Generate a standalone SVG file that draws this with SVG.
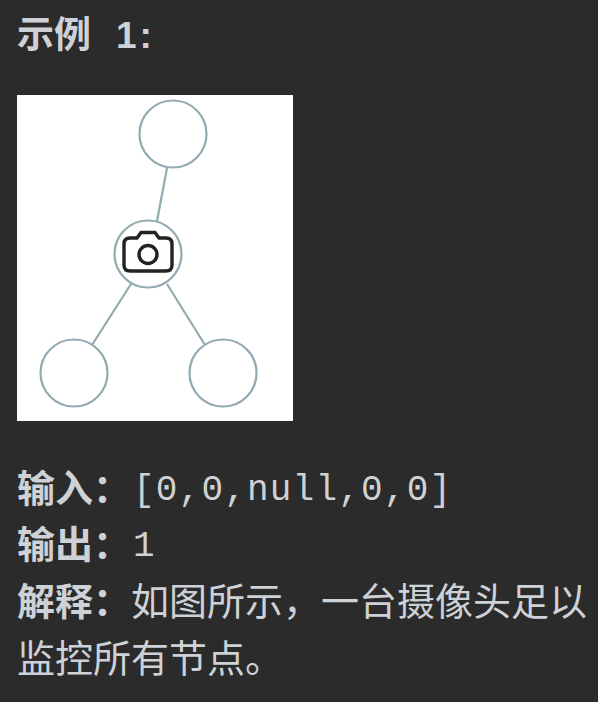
<svg xmlns="http://www.w3.org/2000/svg" width="598" height="702" viewBox="0 0 598 702">
<style>
.b{font-family:"Liberation Sans","Noto Sans CJK SC",sans-serif;font-weight:700;fill:#ced1d5}
.t{font-family:"Noto Sans CJK SC",sans-serif;fill:#ced1d5;font-size:38px}
.m{font-family:"Liberation Mono","Noto Sans CJK SC",monospace;fill:#ced1d5;font-size:36px;letter-spacing:1.2px}
.n{fill:#fff;stroke:#93aab2;stroke-width:2.200}
.e{stroke:#93aab2;stroke-width:2.200;fill:none}
</style>
<rect width="598" height="702" fill="#2b2b2b"/>
<text class="b" x="17" y="48" font-size="37">示例</text>
<text class="b" x="116" y="48" font-size="37" letter-spacing="3">1:</text>
<rect x="17" y="95" width="276" height="326" fill="#fff"/>
<g id="connectors">
<line class="e" x1="167" y1="168" x2="157" y2="221"/>
<line class="e" x1="131" y1="284" x2="92" y2="345"/>
<line class="e" x1="167" y1="284" x2="205" y2="345"/>
</g>
<g id="node-top"><circle class="n" cx="173" cy="134" r="33.500"/></g>
<g id="node-camera"><circle class="n" cx="148" cy="254" r="33.500"/>
<path d="M130 238H137L141 232.500H155L159 238H166Q172 238 172 244V265Q172 271 166 271H130Q124 271 124 265V244Q124 238 130 238Z" fill="none" stroke="#222" stroke-width="3.400"/>
<circle cx="148" cy="254.500" r="9" fill="none" stroke="#222" stroke-width="3.400"/></g>
<g id="node-left"><circle class="n" cx="74" cy="373" r="33.500"/></g>
<g id="node-right"><circle class="n" cx="223" cy="373" r="33.500"/></g>
<text class="b" x="17" y="502" font-size="38">输入&#xFF1A;</text>
<text class="m" x="133" y="500">[0,0,null,0,0]</text>
<text class="b" x="17" y="558" font-size="38">输出&#xFF1A;</text>
<text class="m" x="133" y="556">1</text>
<text class="b" x="17" y="615" font-size="38">解释&#xFF1A;</text>
<text class="t" x="131" y="615">如图所示&#xFF0C;一台摄像头足以</text>
<text class="t" x="17" y="672">监控所有节点&#x3002;</text>
</svg>
